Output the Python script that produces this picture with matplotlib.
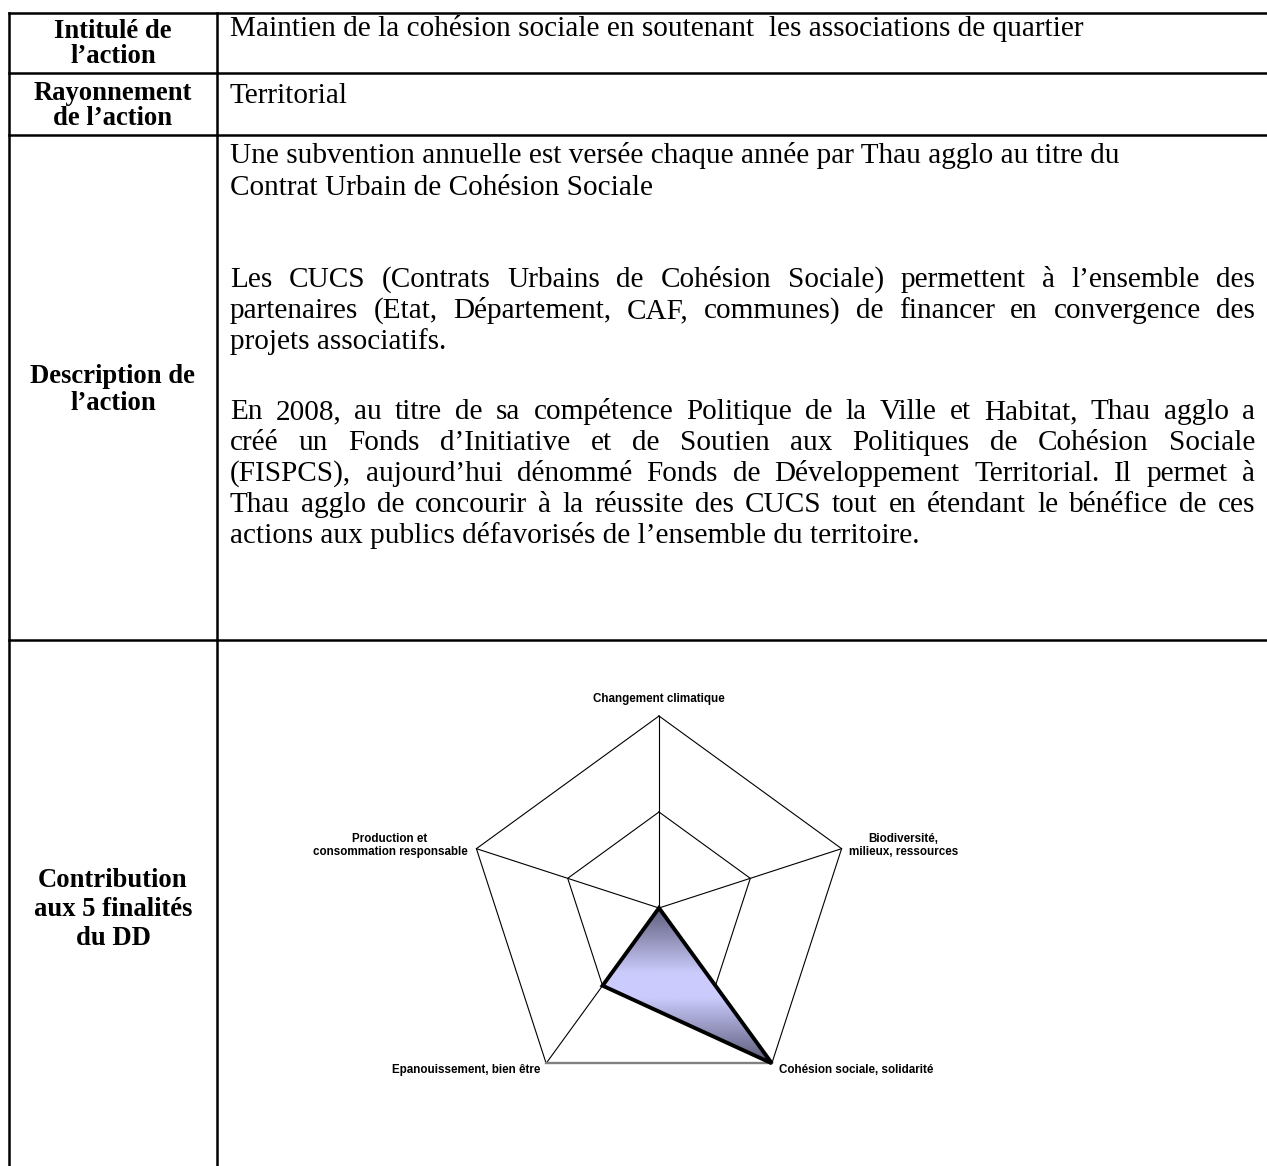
import numpy as np
import matplotlib
matplotlib.use("Agg")
import matplotlib.pyplot as plt
from matplotlib.colors import LinearSegmentedColormap
from matplotlib.patches import Polygon

# ---------------- data ----------------
row_labels = [["Intitulé de", "l’action"],
              ["Rayonnement", "de l’action"],
              ["Description de", "l’action"],
              ["Contribution", "aux 5 finalités", "du DD"]]
action_title = "Maintien de la cohésion sociale en soutenant  les associations de quartier"
action_reach = "Territorial"
desc_par1 = ["Une subvention annuelle est versée chaque année par Thau agglo au titre du",
             "Contrat Urbain de Cohésion Sociale"]
desc_par2 = ["Les CUCS (Contrats Urbains de Cohésion Sociale) permettent à l’ensemble des",
             "partenaires (Etat, Département, CAF, communes) de financer en convergence des",
             "projets associatifs."]
desc_par3 = ["En 2008, au titre de sa compétence Politique de la Ville et Habitat, Thau agglo a",
             "créé un Fonds d’Initiative et de Soutien aux Politiques de Cohésion Sociale",
             "(FISPCS), aujourd’hui dénommé Fonds de Développement Territorial. Il permet à",
             "Thau agglo de concourir à la réussite des CUCS tout en étendant le bénéfice de ces",
             "actions aux publics défavorisés de l’ensemble du territoire."]
categories = ["Changement climatique",
              "Biodiversité,\nmilieux, ressources",
              "Cohésion sociale, solidarité",
              "Epanouissement, bien être",
              "Production et\nconsommation responsable"]
scores = [0, 0, 2, 1, 0]
score_max = 2
grid_levels = [1, 2]

# ---------------- figure ----------------
W, H, DPI = 1267, 1166, 100
fig = plt.figure(figsize=(W / DPI, H / DPI), dpi=DPI)
fig.patch.set_facecolor("white")
ax = fig.add_axes([0, 0, 1, 1])
ax.set_xlim(0, W)
ax.set_ylim(H, 0)
ax.axis("off")
renderer = fig.canvas.get_renderer()

SERIF = "Liberation Serif"
SANS = "Liberation Sans"


def text_width(s, **kw):
    t = ax.text(0, 0, s, **kw)
    w = t.get_window_extent(renderer).width
    t.remove()
    return w


fs_body = 20 * 852 / text_width(action_title, fontsize=20, family=SERIF)
fs_lab = 18 * 165 / text_width(row_labels[2][0], fontsize=18, family=SERIF, weight="bold")
fs_lab4 = 18 * 158 / text_width(row_labels[3][1], fontsize=18, family=SERIF, weight="bold")

# ---------------- table grid ----------------
x_left, x_col, x_right = 9, 217, W
row_y = [13, 73, 135, 640]
lw_tab = 1.8
for y in row_y:
    ax.plot([x_left, x_right], [y, y], color="black", lw=lw_tab, solid_capstyle="projecting")
for x in (x_left, x_col):
    ax.plot([x, x], [row_y[0], H + 5], color="black", lw=lw_tab, solid_capstyle="projecting")

# ---------------- left column labels ----------------
label_baselines = [[38, 63], [100, 125], [383, 410], [887, 916, 945]]
xc_lab = (x_left + x_col) / 2
for i, (lines, bases) in enumerate(zip(row_labels, label_baselines)):
    fs = fs_lab4 if i == 3 else fs_lab
    for s, yb in zip(lines, bases):
        ax.text(xc_lab, yb, s, ha="center", va="baseline", fontsize=fs,
                family=SERIF, weight="bold", color="black")

# ---------------- body text ----------------
x_text, x_just = 230, 1255
ax.text(x_text, 36, action_title, ha="left", va="baseline", fontsize=fs_body, family=SERIF)
ax.text(x_text, 103, action_reach, ha="left", va="baseline", fontsize=fs_body, family=SERIF)


def draw_line(s, yb, justify):
    if not justify:
        ax.text(x_text, yb, s, ha="left", va="baseline", fontsize=fs_body, family=SERIF)
        return
    words = s.split(" ")
    arts = [ax.text(0, yb, w, ha="left", va="baseline", fontsize=fs_body, family=SERIF)
            for w in words]
    widths = [a.get_window_extent(renderer).width for a in arts]
    gap = (x_just - x_text - sum(widths)) / (len(words) - 1)
    x = x_text
    for a, w in zip(arts, widths):
        a.set_x(x)
        x += w + gap


par_baselines = [[163, 195], [287, 318, 349], [419, 450, 481, 512, 543]]
for par, bases, just in zip([desc_par1, desc_par2, desc_par3], par_baselines, [False, True, True]):
    for k, (s, yb) in enumerate(zip(par, bases)):
        draw_line(s, yb, just and k < len(par) - 1)

# ---------------- radar chart ----------------
cx, cy, R = 659, 908, 192
ax_r = fig.add_axes([(cx - R) / W, (H - cy - R) / H, 2 * R / W, 2 * R / H], projection="polar")
ax_r.set_theta_offset(np.pi / 2)
ax_r.set_theta_direction(-1)
ax_r.set_ylim(0, score_max)
ax_r.axis("off")
T = ax_r.transData

n = len(categories)
angles = np.arange(n) * 2 * np.pi / n
closed = np.r_[angles, angles[0]]

for lev in grid_levels:
    ax.plot(closed, [lev] * (n + 1), transform=T, color="black", lw=0.8, zorder=2)
for a in angles:
    ax.plot([a, a], [0, score_max], transform=T, color="black", lw=0.8, zorder=2)
ax.plot([angles[2], angles[3]], [score_max, score_max], transform=T,
        color="#808080", lw=1.7, zorder=2.5)

verts = np.c_[angles, scores]
disp = T.transform(verts)
pix = ax.transData.inverted().transform(disp)
xmin, xmax = pix[:, 0].min(), pix[:, 0].max()
ymin, ymax = pix[:, 1].min(), pix[:, 1].max()
cmap = LinearSegmentedColormap.from_list(
    "grad", [(0, "#5c5c7a"), (0.42, "#cbcbfd"), (0.58, "#cbcbfd"), (1, "#5a5a78")])
grad = np.linspace(0, 1, 256).reshape(-1, 1)
im = ax.imshow(grad, cmap=cmap, extent=(xmin, xmax, ymax, ymin), origin="upper",
               aspect="auto", zorder=3, interpolation="bilinear")
clip = Polygon(verts, closed=True, transform=T, facecolor="none", edgecolor="none")
im.set_clip_path(clip)
ax.add_patch(Polygon(verts, closed=True, transform=T, facecolor="none",
                     edgecolor="black", lw=2.8, joinstyle="miter", zorder=4))

label_offsets = [(0, 17, "center"), (7, 3, "left"), (7, -7, "left"),
                 (-6, -7, "right"), (-9, 3, "right")]
for cat, a, (dx, dy, ha) in zip(categories, angles, label_offsets):
    ax.annotate(cat, xy=(a, score_max), xycoords=T, xytext=(dx, dy),
                textcoords="offset pixels", ha=ha, va="center", multialignment="center",
                fontsize=8.4, family=SANS, weight="bold", linespacing=1.1, zorder=5)

ax.set_xlim(0, W)
ax.set_ylim(H, 0)
fig.savefig("out.png", dpi=DPI, facecolor="white")
